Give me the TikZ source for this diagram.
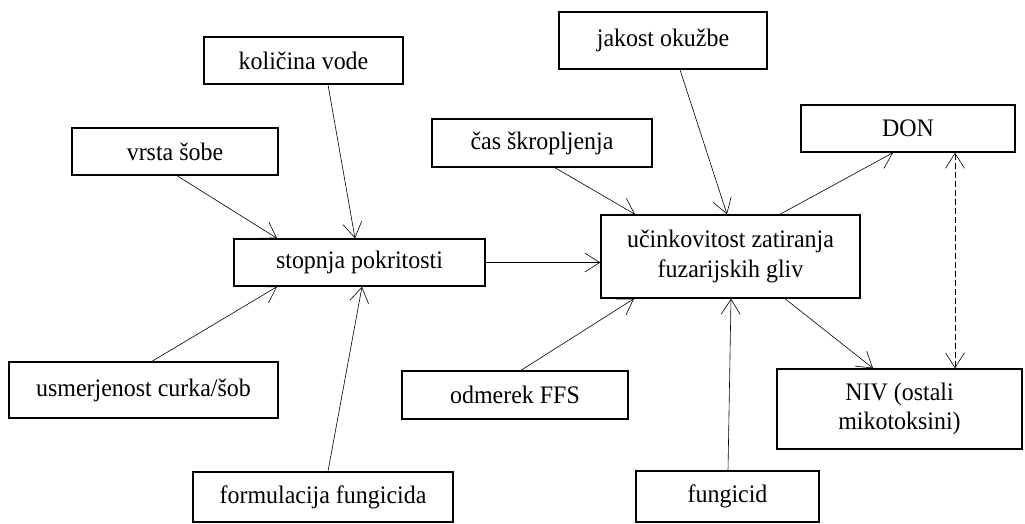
\documentclass[tikz,border=0pt]{standalone}
\usepackage{fontspec}
\setmainfont{Liberation Serif}[FakeStretch=0.95]
\usetikzlibrary{arrows.meta}

\begin{document}
\begin{tikzpicture}[x=1pt, y=-1pt,
    factor/.style={rectangle, draw, line width=1.4pt, inner sep=0pt, align=center,
        font=\fontsize{25.2}{29.5}\selectfont},
    link/.style={line width=0.6pt, -{Straight Barb[length=15pt, width=19pt, line width=0.6pt]}}
]

    \useasboundingbox (0,0) rectangle (1025,523);

    % Vplivi na stopnjo pokritosti
    \node[factor, minimum width=199pt, minimum height=47pt] (voda) at (303.5,60.5) {količina vode};
    \node[factor, minimum width=206pt, minimum height=47pt] (soba) at (175,151.5) {vrsta šobe};
    \node[factor, minimum width=251pt, minimum height=47pt] (pokritost) at (359.5,262.5) {stopnja pokritosti};
    \node[factor, minimum width=269pt, minimum height=56pt] (curek) at (143.5,390) {usmerjenost curka/šob};
    \node[factor, minimum width=260pt, minimum height=50pt] (formulacija) at (323,497) {formulacija fungicida};

    % Vplivi na ucinkovitost
    \node[factor, minimum width=208pt, minimum height=57pt] (okuzba) at (663,40.5) {jakost okužbe};
    \node[factor, minimum width=220pt, minimum height=48pt] (cas) at (542,143) {čas škropljenja};
    \node[factor, minimum width=259pt, minimum height=83pt] (ucinek) at (730.5,256.5) {učinkovitost zatiranja\\fuzarijskih gliv};
    \node[factor, minimum width=226pt, minimum height=48pt] (odmerek) at (515,395) {odmerek FFS};
    \node[factor, minimum width=183pt, minimum height=51pt] (fungicid) at (727.5,496.5) {fungicid};

    % Mikotoksini
    \node[factor, minimum width=214pt, minimum height=47pt] (don) at (908,128.5) {DON};
    \node[factor, minimum width=245pt, minimum height=80pt] (niv) at (899.5,409) {NIV (ostali\\mikotoksini)};

    % Povezave
    \draw[link] ([xshift=2pt]soba.south) -- ([xshift=-82.5pt]pokritost.north);
    \draw[link] ([xshift=24.5pt]voda.south) -- ([xshift=-4.5pt]pokritost.north);
    \draw[link] ([xshift=8.5pt]curek.north) -- ([xshift=-82.5pt]pokritost.south);
    \draw[link] ([xshift=5pt]formulacija.north) -- ([xshift=2.5pt]pokritost.south);
    \draw[link] (pokritost.east) -- (pokritost.east -| ucinek.west);

    \draw[link] ([xshift=13pt]cas.south) -- ([xshift=-95.5pt]ucinek.north);
    \draw[link] ([xshift=17pt]okuzba.south) -- ([xshift=-3.5pt]ucinek.north);
    \draw[link] ([xshift=6pt]odmerek.north) -- ([xshift=-96.5pt]ucinek.south);
    \draw[link] ([xshift=0.5pt]fungicid.north) -- ([xshift=0.5pt]ucinek.south);

    \draw[link] ([xshift=49.5pt]ucinek.north) -- ([xshift=-15pt]don.south);
    \draw[link] ([xshift=54.5pt]ucinek.south) -- ([xshift=-26.5pt]niv.north);
    \draw[link, dash pattern=on 6pt off 3pt,
        {Straight Barb[length=15pt, width=19pt, line width=0.6pt]}-{Straight Barb[length=15pt, width=19pt, line width=0.6pt]}]
        ([xshift=47pt]don.south) -- ([xshift=47pt]don.south |- niv.north);

\end{tikzpicture}
\end{document}
